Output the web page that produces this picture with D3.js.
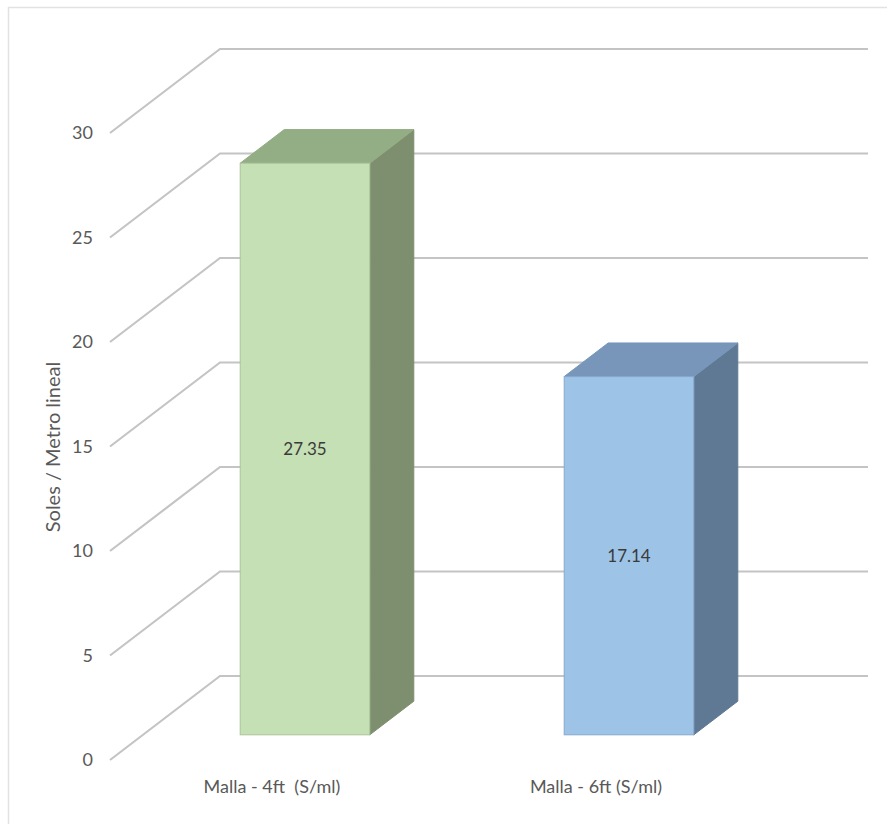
<!DOCTYPE html>
<html>
<head>
<meta charset="utf-8">
<script src="https://cdn.jsdelivr.net/npm/d3@7"></script>
<style>
  html, body { margin: 0; padding: 0; background: #ffffff; }
  svg { display: block; }
  text { font-family: Lato, "Open Sans", sans-serif; }
</style>
</head>
<body>
<svg id="chart" width="887" height="824"></svg>
<script>
// Data
const categories = ["Malla - 4ft  (S/ml)", "Malla - 6ft (S/ml)"];
const values = [27.35, 17.14];
const valueLabels = ["27.35", "17.14"];
const tickValues = [0, 5, 10, 15, 20, 25, 30];
const axisTitle = "Soles / Metro lineal";

// Bar styling: front, top, side faces
const faceColors = [
  { front: "#c5e0b4", top: "#93ad84", side: "#7e8f6f", stroke: "#a9c39a" },
  { front: "#9dc3e6", top: "#7796b9", side: "#5f7994", stroke: "#86a9cb" }
];

const svg = d3.select("#chart");
const W = 887, H = 824;

// Chart frame
svg.append("line").attr("x1", 8.5).attr("x2", 8.5).attr("y1", 7).attr("y2", H)
  .attr("stroke", "#e2e2e2").attr("stroke-width", 1.5);
svg.append("line").attr("x1", 8).attr("x2", W).attr("y1", 7.5).attr("y2", 7.5)
  .attr("stroke", "#e2e2e2").attr("stroke-width", 1.5);

// Oblique projection: front plane x/y plus a depth offset
const depthDX = 110, depthDY = -84;
const x = d3.scaleBand().domain(categories).range([110, 758])
  .paddingInner(0.6).paddingOuter(0.3);
const y = d3.scaleLinear().domain([0, 30]).range([760, 133]);
const proj = (px, v, z) => [px + z * depthDX, y(v) + z * depthDY];

// Wall + floor gridlines
const grid = svg.append("g");
tickValues.forEach(t => {
  const a = proj(110, t, 0), b = proj(110, t, 1), c = proj(758, t, 1);
  grid.append("path")
    .attr("d", d3.line()([a, b, c]))
    .attr("fill", "none").attr("stroke", "#c4c4c4").attr("stroke-width", 2.2);
});

// Tick labels
svg.append("g").selectAll("text").data(tickValues).join("text")
  .attr("x", 93).attr("y", d => y(d)).attr("dy", "0.35em")
  .attr("text-anchor", "end").attr("font-size", 18).attr("fill", "#595959")
  .text(d => d);

// Axis title
svg.append("text")
  .attr("transform", "translate(53,447) rotate(-90)")
  .attr("text-anchor", "middle").attr("dy", "0.35em")
  .attr("font-size", 20).attr("fill", "#595959")
  .text(axisTitle);

// 3D bars
const z0 = 0.3, z1 = 0.7;
const bars = svg.append("g");
categories.forEach((cat, i) => {
  const v = values[i], c = faceColors[i];
  const xl = x(cat), xr = x(cat) + x.bandwidth();
  const poly = pts => d3.line()(pts) + "Z";
  // side face
  bars.append("path")
    .attr("d", poly([proj(xr, 0, z0), proj(xr, 0, z1), proj(xr, v, z1), proj(xr, v, z0)]))
    .attr("fill", c.side).attr("stroke", c.side).attr("stroke-width", 1);
  // top face
  bars.append("path")
    .attr("d", poly([proj(xl, v, z0), proj(xr, v, z0), proj(xr, v, z1), proj(xl, v, z1)]))
    .attr("fill", c.top).attr("stroke", c.top).attr("stroke-width", 1);
  // front face
  const [fx0, fy0] = proj(xl, v, z0), [fx1, fy1] = proj(xr, 0, z0);
  bars.append("rect")
    .attr("x", fx0).attr("y", fy0).attr("width", fx1 - fx0).attr("height", fy1 - fy0)
    .attr("fill", c.front).attr("stroke", c.stroke).attr("stroke-width", 1);
  // value label
  bars.append("text")
    .attr("x", (fx0 + fx1) / 2).attr("y", (fy0 + fy1) / 2).attr("dy", "0.35em")
    .attr("text-anchor", "middle").attr("font-size", 17).attr("fill", "#3a3a3a")
    .text(valueLabels[i]);
});

// Category labels
svg.append("g").selectAll("text").data(categories).join("text")
  .attr("x", d => x(d) + x.bandwidth() / 2)
  .attr("y", 787).attr("dy", "0.35em")
  .attr("text-anchor", "middle").attr("font-size", 18).attr("fill", "#595959")
  .style("white-space", "pre")
  .text(d => d);
</script>
</body>
</html>
